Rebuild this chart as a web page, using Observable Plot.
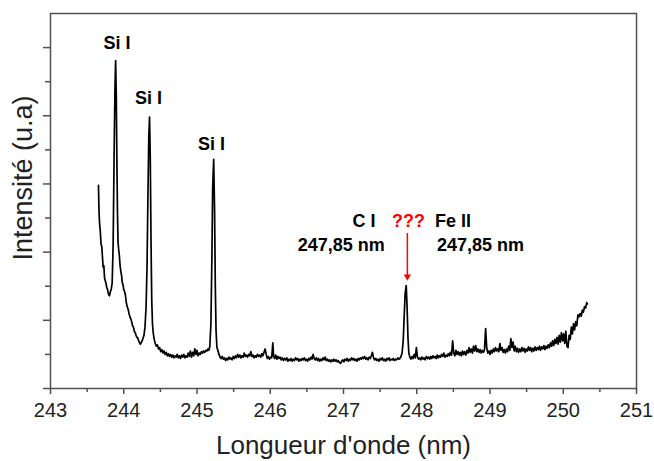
<!DOCTYPE html>
<html>
<head>
<meta charset="utf-8">
<script src="https://cdn.jsdelivr.net/npm/d3@7"></script>
<script src="https://cdn.jsdelivr.net/npm/@observablehq/plot@0.6"></script>
<style>
  html, body { margin: 0; padding: 0; background: #fff; }
  #chart svg { display: block; }
</style>
</head>
<body>
<div id="chart"></div>
<script>
// [wavelength (nm), intensity (a.u.)]
const spectrum = [
  [243.655, 2.98], [243.662, 2.60], [243.670, 2.42], [243.680, 2.30], [243.690, 2.12],
  [243.700, 2.08], [243.710, 1.92], [243.718, 1.78], [243.728, 1.80], [243.738, 1.62],
  [243.748, 1.58], [243.758, 1.54], [243.768, 1.48], [243.780, 1.45], [243.792, 1.38],
  [243.805, 1.36], [243.818, 1.42], [243.830, 1.46], [243.842, 1.55], [243.855, 2.10],
  [243.868, 3.40], [243.880, 4.40], [243.889, 4.81], [243.898, 4.30], [243.906, 3.40],
  [243.914, 2.60], [243.922, 2.15], [243.930, 2.05], [243.940, 1.95], [243.950, 1.80],
  [243.960, 1.72], [243.970, 1.66], [243.980, 1.55], [243.990, 1.52], [244.000, 1.45],
  [244.012, 1.42], [244.024, 1.36], [244.036, 1.25], [244.048, 1.20], [244.060, 1.16],
  [244.072, 1.10], [244.084, 1.05], [244.096, 1.02], [244.108, 0.98], [244.120, 0.92],
  [244.132, 0.90], [244.144, 0.84], [244.156, 0.82], [244.168, 0.78], [244.180, 0.75],
  [244.192, 0.74], [244.204, 0.70], [244.216, 0.67], [244.228, 0.65], [244.240, 0.68],
  [244.252, 0.70], [244.264, 0.74], [244.276, 0.78], [244.290, 0.90], [244.305, 1.20],
  [244.318, 1.80], [244.330, 2.80], [244.342, 3.70], [244.352, 3.98], [244.362, 3.40],
  [244.372, 2.20], [244.382, 1.30], [244.392, 0.95], [244.404, 0.80], [244.416, 0.72],
  [244.430, 0.66], [244.445, 0.62], [244.460, 0.64], [244.475, 0.58], [244.490, 0.60],
  [244.505, 0.54], [244.520, 0.57], [244.535, 0.52], [244.550, 0.55], [244.565, 0.50],
  [244.580, 0.53], [244.595, 0.48], [244.610, 0.51], [244.625, 0.47], [244.640, 0.50],
  [244.655, 0.46], [244.670, 0.49], [244.685, 0.45], [244.700, 0.48], [244.715, 0.46],
  [244.730, 0.50], [244.745, 0.45], [244.760, 0.48], [244.775, 0.44], [244.790, 0.49],
  [244.805, 0.46], [244.820, 0.50], [244.835, 0.45], [244.850, 0.48], [244.865, 0.46],
  [244.880, 0.52], [244.895, 0.47], [244.910, 0.55], [244.925, 0.46], [244.940, 0.53],
  [244.955, 0.48], [244.970, 0.58], [244.985, 0.50], [245.000, 0.56], [245.015, 0.48],
  [245.030, 0.52], [245.045, 0.50], [245.060, 0.54], [245.075, 0.52], [245.090, 0.55],
  [245.105, 0.53], [245.120, 0.56], [245.135, 0.55], [245.150, 0.58], [245.162, 0.56],
  [245.175, 0.62], [245.190, 0.95], [245.203, 1.90], [245.214, 2.95], [245.228, 3.36],
  [245.240, 2.60], [245.250, 1.50], [245.260, 0.85], [245.272, 0.60], [245.285, 0.56],
  [245.300, 0.50], [245.315, 0.46], [245.330, 0.44], [245.345, 0.47], [245.360, 0.43],
  [245.375, 0.45], [245.390, 0.41], [245.405, 0.44], [245.420, 0.42], [245.435, 0.46],
  [245.450, 0.43], [245.465, 0.45], [245.480, 0.42], [245.495, 0.47], [245.510, 0.44],
  [245.525, 0.48], [245.540, 0.45], [245.555, 0.50], [245.570, 0.46], [245.585, 0.49],
  [245.600, 0.45], [245.615, 0.48], [245.630, 0.46], [245.645, 0.52], [245.660, 0.47],
  [245.675, 0.49], [245.690, 0.46], [245.705, 0.50], [245.720, 0.48], [245.735, 0.54],
  [245.750, 0.47], [245.765, 0.49], [245.780, 0.45], [245.795, 0.48], [245.810, 0.46],
  [245.825, 0.50], [245.840, 0.47], [245.855, 0.49], [245.870, 0.46], [245.885, 0.51],
  [245.900, 0.48], [245.915, 0.53], [245.930, 0.58], [245.945, 0.50], [245.960, 0.44],
  [245.975, 0.47], [245.990, 0.43], [246.005, 0.46], [246.020, 0.45], [246.035, 0.67],
  [246.045, 0.48], [246.060, 0.44], [246.075, 0.49], [246.090, 0.43], [246.105, 0.47],
  [246.120, 0.44], [246.135, 0.46], [246.150, 0.42], [246.165, 0.45], [246.180, 0.41],
  [246.195, 0.44], [246.210, 0.42], [246.225, 0.45], [246.240, 0.40], [246.255, 0.43],
  [246.270, 0.41], [246.285, 0.44], [246.300, 0.40], [246.315, 0.43], [246.330, 0.41],
  [246.345, 0.45], [246.360, 0.42], [246.375, 0.44], [246.390, 0.40], [246.405, 0.43],
  [246.420, 0.41], [246.435, 0.44], [246.450, 0.42], [246.465, 0.45], [246.480, 0.41],
  [246.495, 0.43], [246.510, 0.40], [246.525, 0.44], [246.540, 0.42], [246.555, 0.46],
  [246.570, 0.43], [246.585, 0.50], [246.600, 0.44], [246.615, 0.42], [246.630, 0.45],
  [246.645, 0.41], [246.660, 0.44], [246.675, 0.40], [246.690, 0.43], [246.705, 0.41],
  [246.720, 0.45], [246.735, 0.42], [246.750, 0.46], [246.765, 0.41], [246.780, 0.43],
  [246.795, 0.40], [246.810, 0.42], [246.825, 0.39], [246.840, 0.42], [246.855, 0.40],
  [246.870, 0.43], [246.885, 0.40], [246.900, 0.42], [246.915, 0.39], [246.930, 0.41],
  [246.945, 0.38], [246.960, 0.37], [246.975, 0.40], [246.990, 0.42], [247.005, 0.39],
  [247.020, 0.43], [247.035, 0.41], [247.050, 0.44], [247.065, 0.40], [247.080, 0.43],
  [247.095, 0.41], [247.110, 0.45], [247.125, 0.42], [247.140, 0.44], [247.155, 0.41],
  [247.170, 0.43], [247.185, 0.40], [247.200, 0.44], [247.215, 0.42], [247.230, 0.45],
  [247.245, 0.43], [247.260, 0.46], [247.275, 0.44], [247.290, 0.47], [247.305, 0.43],
  [247.320, 0.45], [247.335, 0.42], [247.350, 0.46], [247.365, 0.44], [247.380, 0.48],
  [247.395, 0.53], [247.410, 0.45], [247.425, 0.42], [247.440, 0.44], [247.455, 0.41],
  [247.470, 0.43], [247.485, 0.40], [247.500, 0.44], [247.515, 0.42], [247.530, 0.45],
  [247.545, 0.41], [247.560, 0.43], [247.575, 0.40], [247.590, 0.44], [247.605, 0.42],
  [247.620, 0.45], [247.635, 0.41], [247.650, 0.43], [247.665, 0.42], [247.680, 0.44],
  [247.695, 0.41], [247.710, 0.43], [247.725, 0.42], [247.740, 0.45], [247.755, 0.43],
  [247.770, 0.44], [247.785, 0.47], [247.800, 0.52], [247.815, 0.70], [247.828, 1.05],
  [247.842, 1.40], [247.856, 1.51], [247.868, 1.20], [247.880, 0.75], [247.892, 0.52],
  [247.905, 0.46], [247.920, 0.43], [247.935, 0.47], [247.950, 0.44], [247.965, 0.50],
  [247.980, 0.45], [247.995, 0.60], [248.010, 0.46], [248.025, 0.43], [248.040, 0.45],
  [248.055, 0.42], [248.070, 0.46], [248.085, 0.43], [248.100, 0.45], [248.115, 0.42],
  [248.130, 0.47], [248.145, 0.44], [248.160, 0.46], [248.175, 0.43], [248.190, 0.47],
  [248.205, 0.44], [248.220, 0.48], [248.235, 0.45], [248.250, 0.47], [248.265, 0.44],
  [248.280, 0.49], [248.295, 0.45], [248.310, 0.48], [248.325, 0.46], [248.340, 0.50],
  [248.355, 0.47], [248.370, 0.52], [248.385, 0.46], [248.400, 0.49], [248.415, 0.47],
  [248.430, 0.51], [248.445, 0.48], [248.460, 0.53], [248.475, 0.49], [248.490, 0.70],
  [248.505, 0.52], [248.520, 0.48], [248.535, 0.56], [248.550, 0.50], [248.565, 0.54],
  [248.580, 0.49], [248.595, 0.53], [248.610, 0.48], [248.625, 0.55], [248.640, 0.50],
  [248.655, 0.54], [248.670, 0.49], [248.685, 0.56], [248.700, 0.52], [248.715, 0.60],
  [248.730, 0.53], [248.745, 0.58], [248.760, 0.52], [248.775, 0.62], [248.790, 0.55],
  [248.805, 0.63], [248.820, 0.54], [248.835, 0.58], [248.850, 0.53], [248.865, 0.57],
  [248.880, 0.52], [248.895, 0.56], [248.910, 0.53], [248.925, 0.57], [248.940, 0.88],
  [248.955, 0.60], [248.970, 0.52], [248.985, 0.55], [249.000, 0.50], [249.015, 0.56],
  [249.030, 0.52], [249.045, 0.58], [249.060, 0.54], [249.075, 0.60], [249.090, 0.55],
  [249.105, 0.58], [249.120, 0.54], [249.135, 0.66], [249.150, 0.56], [249.165, 0.60],
  [249.180, 0.53], [249.195, 0.57], [249.210, 0.52], [249.225, 0.58], [249.240, 0.54],
  [249.255, 0.62], [249.270, 0.56], [249.285, 0.73], [249.300, 0.60], [249.315, 0.68],
  [249.330, 0.55], [249.345, 0.62], [249.360, 0.54], [249.375, 0.59], [249.390, 0.53],
  [249.405, 0.58], [249.420, 0.54], [249.435, 0.60], [249.450, 0.55], [249.465, 0.59],
  [249.480, 0.53], [249.495, 0.58], [249.510, 0.55], [249.525, 0.61], [249.540, 0.56],
  [249.555, 0.60], [249.570, 0.54], [249.585, 0.59], [249.600, 0.55], [249.615, 0.61],
  [249.630, 0.56], [249.645, 0.60], [249.660, 0.57], [249.675, 0.62], [249.690, 0.56],
  [249.705, 0.61], [249.720, 0.58], [249.735, 0.63], [249.750, 0.57], [249.765, 0.62],
  [249.780, 0.59], [249.795, 0.64], [249.810, 0.60], [249.825, 0.67], [249.840, 0.62],
  [249.855, 0.70], [249.870, 0.63], [249.885, 0.72], [249.900, 0.66], [249.915, 0.75],
  [249.930, 0.65], [249.945, 0.78], [249.960, 0.68], [249.975, 0.82], [249.990, 0.70],
  [250.005, 0.80], [250.020, 0.66], [250.035, 0.84], [250.050, 0.62], [250.065, 0.60],
  [250.080, 0.78], [250.095, 0.72], [250.110, 0.90], [250.125, 0.80], [250.140, 0.95],
  [250.155, 0.86], [250.170, 0.98], [250.185, 0.92], [250.200, 1.08], [250.215, 1.05],
  [250.230, 1.10], [250.245, 1.06], [250.260, 1.15], [250.275, 1.12], [250.290, 1.20],
  [250.305, 1.18], [250.320, 1.26], [250.330, 1.24]
];

const xMajorTicks = [243, 244, 245, 246, 247, 248, 249, 250, 251];
const xMinorTicks = [243.5, 244.5, 245.5, 246.5, 247.5, 248.5, 249.5, 250.5];
const yMajorTicks = [0, 1, 2, 3, 4, 5];
const yMinorTicks = [0.5, 1.5, 2.5, 3.5, 4.5];

const xTitle = "Longueur d'onde (nm)";
const yTitle = "Intensité (u.a)";

const peakLabels = [
  {x: 243.908, y: 5.06, text: "Si I", color: "black"},
  {x: 244.338, y: 4.25, text: "Si I", color: "black"},
  {x: 245.198, y: 3.58, text: "Si I", color: "black"},
  {x: 247.28,  y: 2.45, text: "C I", color: "black"},
  {x: 247.887, y: 2.45, text: "???", color: "red"},
  {x: 248.495, y: 2.45, text: "Fe II", color: "black"},
  {x: 246.97,  y: 2.10, text: "247,85 nm", color: "black"},
  {x: 248.87,  y: 2.10, text: "247,85 nm", color: "black"}
];

const arrow = [{x: 247.872, y1: 2.215, y2: 1.584}];

const axisColor = "#505050";
const labelColor = "#222";

const chart = Plot.plot({
  width: 654,
  height: 461,
  marginLeft: 50,
  marginRight: 18,
  marginTop: 13,
  marginBottom: 73,
  x: {domain: [243, 251]},
  y: {domain: [0, 5.5]},
  style: {fontFamily: "'Liberation Sans', Arial, sans-serif", background: "white", overflow: "visible"},
  marks: [
    Plot.axisX(xMinorTicks, {tickSize: 4, tickFormat: () => "", label: null, stroke: axisColor, strokeWidth: 1.5}),
    Plot.axisX(xMajorTicks, {tickSize: 6, tickPadding: 8, fontSize: 20, label: null, stroke: axisColor, fill: labelColor, strokeWidth: 1.5, tickFormat: d => String(d)}),
    Plot.axisY(yMinorTicks, {tickSize: 5, tickFormat: () => "", label: null, stroke: axisColor, strokeWidth: 1.5}),
    Plot.axisY(yMajorTicks, {tickSize: 7, tickFormat: () => "", label: null, stroke: axisColor, strokeWidth: 1.5}),
    Plot.frame({stroke: axisColor, strokeWidth: 1.5}),
    Plot.line(spectrum, {x: d => d[0], y: d => d[1], stroke: "black", strokeWidth: 1.7, strokeLinejoin: "round"}),
    Plot.text(peakLabels, {x: "x", y: "y", text: "text", fill: "color", fontWeight: "bold", fontSize: 18}),
    Plot.ruleX(arrow, {x: "x", y1: "y1", y2: "y2", stroke: "red", strokeWidth: 1.5, dy: -4}),
    Plot.dot(arrow, {x: "x", y: "y2", symbol: "triangle", rotate: 180, fill: "red", stroke: "none", r: 2.7, dy: -4}),
    Plot.text([xTitle], {frameAnchor: "bottom", lineAnchor: "middle", textAnchor: "middle", dy: 57, fontSize: 26, fill: labelColor}),
    Plot.text([yTitle], {frameAnchor: "left", lineAnchor: "middle", textAnchor: "middle", rotate: -90, dx: -27, dy: -23, fontSize: 27, fill: labelColor})
  ]
});

document.getElementById("chart").appendChild(chart);
</script>
</body>
</html>
